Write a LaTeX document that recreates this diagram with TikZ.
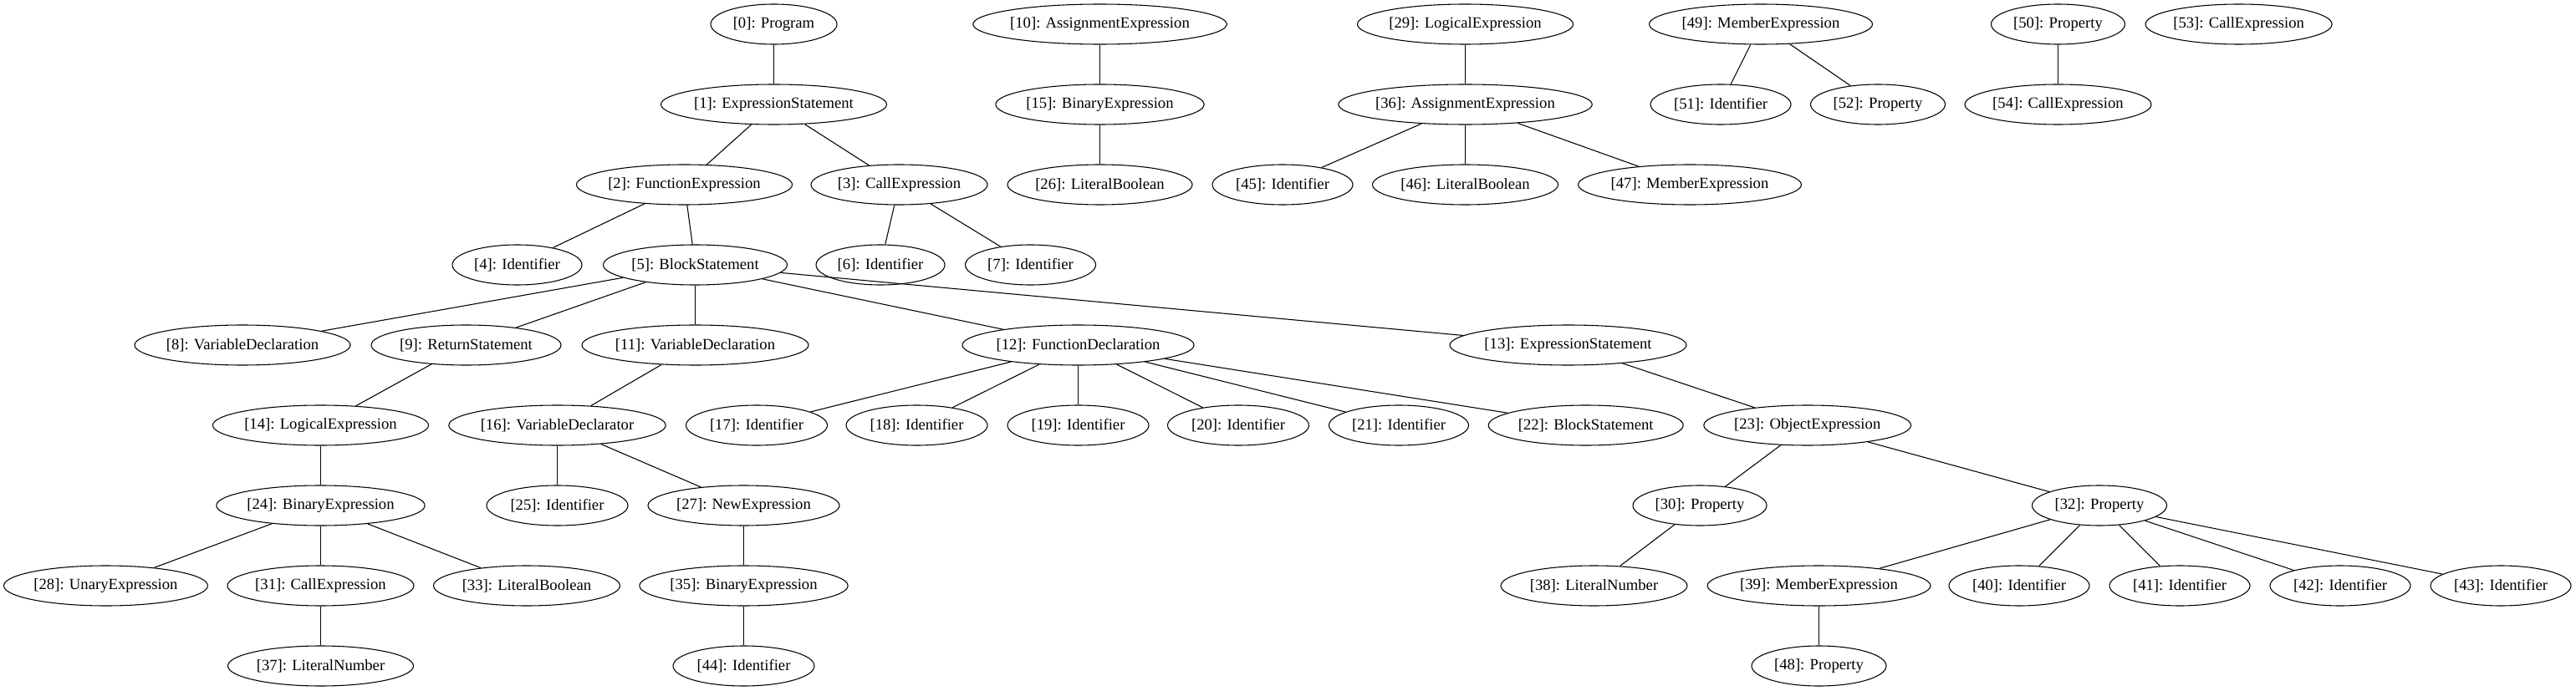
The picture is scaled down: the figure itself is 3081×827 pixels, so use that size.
\documentclass[tikz,border=0pt]{standalone}
\usepackage{fontspec}
\setmainfont{Liberation Serif}
\usetikzlibrary{shapes.geometric}
\begin{document}
\begin{tikzpicture}[x=0.75pt,y=-0.75pt,
  nd/.style={ellipse,draw,line width=0.8pt,minimum height=36pt,minimum width={#1*0.75pt},inner sep=0pt,
    font=\fontsize{14pt}{16pt}\selectfont},
  ed/.style={line width=0.8pt}]
\useasboundingbox (0,0) rectangle (3081,827);
% row 0
\node[nd=151] (n0) at (925.5,29) {[0]: Program};
\node[nd=299] (n10) at (1315.5,29) {[10]: AssignmentExpression};
\node[nd=256] (n29) at (1752.5,29) {[29]: LogicalExpression};
\node[nd=267] (n49) at (2106,29) {[49]: MemberExpression};
\node[nd=160] (n50) at (2461.5,29) {[50]: Property};
\node[nd=223] (n53) at (2677.6,29) {[53]: CallExpression};
% row 1
\node[nd=270] (n1) at (925.5,125) {[1]: ExpressionStatement};
\node[nd=247] (n15) at (1315.5,125) {[15]: BinaryExpression};
\node[nd=297] (n36) at (1752.5,125) {[36]: AssignmentExpression};
\node[nd=168] (n51) at (2058,125) {[51]: Identifier};
\node[nd=161] (n52) at (2246,125) {[52]: Property};
\node[nd=223] (n54) at (2461.5,125) {[54]: CallExpression};
% row 2
\node[nd=257] (n2) at (818.5,221) {[2]: FunctionExpression};
\node[nd=211] (n3) at (1075.5,221) {[3]: CallExpression};
\node[nd=221] (n26) at (1315.5,221) {[26]: LiteralBoolean};
\node[nd=168] (n45) at (1534,221) {[45]: Identifier};
\node[nd=222] (n46) at (1752.5,221) {[46]: LiteralBoolean};
\node[nd=266] (n47) at (2021,221) {[47]: MemberExpression};
% row 3
\node[nd=155] (n4) at (618.5,317) {[4]: Identifier};
\node[nd=220] (n5) at (831.5,317) {[5]: BlockStatement};
\node[nd=154] (n6) at (1053,317) {[6]: Identifier};
\node[nd=156] (n7) at (1232.5,317) {[7]: Identifier};
% row 4
\node[nd=257] (n8) at (290,413) {[8]: VariableDeclaration};
\node[nd=227] (n9) at (557.5,413) {[9]: ReturnStatement};
\node[nd=271] (n11) at (831.5,413) {[11]: VariableDeclaration};
\node[nd=275] (n12) at (1289.5,413) {[12]: FunctionDeclaration};
\node[nd=280] (n13) at (1875.5,413) {[13]: ExpressionStatement};
% row 5
\node[nd=256] (n14) at (383.5,509) {[14]: LogicalExpression};
\node[nd=259] (n16) at (666.5,509) {[16]: VariableDeclarator};
\node[nd=169] (n17) at (905,509) {[17]: Identifier};
\node[nd=169] (n18) at (1096.5,509) {[18]: Identifier};
\node[nd=169] (n19) at (1289.5,509) {[19]: Identifier};
\node[nd=169] (n20) at (1481,509) {[20]: Identifier};
\node[nd=167] (n21) at (1673,509) {[21]: Identifier};
\node[nd=233] (n22) at (1896.7,509) {[22]: BlockStatement};
\node[nd=246] (n23) at (2161.7,509) {[23]: ObjectExpression};
% row 6
\node[nd=248] (n24) at (383.5,605) {[24]: BinaryExpression};
\node[nd=169] (n25) at (666.5,605) {[25]: Identifier};
\node[nd=229] (n27) at (889.5,605) {[27]: NewExpression};
\node[nd=160] (n30) at (2033,605) {[30]: Property};
\node[nd=161] (n32) at (2511,605) {[32]: Property};
% row 7
\node[nd=244] (n28) at (126.5,701) {[28]: UnaryExpression};
\node[nd=223] (n31) at (383.5,701) {[31]: CallExpression};
\node[nd=223] (n33) at (630,701) {[33]: LiteralBoolean};
\node[nd=248] (n35) at (889.5,701) {[35]: BinaryExpression};
\node[nd=223] (n38) at (1906.5,701) {[38]: LiteralNumber};
\node[nd=265] (n39) at (2175.5,701) {[39]: MemberExpression};
\node[nd=168] (n40) at (2415,701) {[40]: Identifier};
\node[nd=168] (n41) at (2607,701) {[41]: Identifier};
\node[nd=168] (n42) at (2799,701) {[42]: Identifier};
\node[nd=168] (n43) at (2991,701) {[43]: Identifier};
% row 8
\node[nd=222] (n37) at (383.5,797) {[37]: LiteralNumber};
\node[nd=169] (n44) at (889.5,797) {[44]: Identifier};
\node[nd=161] (n48) at (2175.5,797) {[48]: Property};
% edges
\foreach \a/\b in {0/1,1/2,1/3,2/4,2/5,3/6,3/7,5/8,5/9,5/11,5/12,5/13,9/14,11/16,
  12/17,12/18,12/19,12/20,12/21,12/22,13/23,14/24,16/25,16/27,24/28,24/31,24/33,
  27/35,31/37,35/44,23/30,23/32,30/38,32/39,32/40,32/41,32/42,32/43,39/48,
  10/15,15/26,29/36,36/45,36/46,36/47,49/51,49/52,50/54}
  \draw[ed] (n\a) -- (n\b);
\end{tikzpicture}
\end{document}
